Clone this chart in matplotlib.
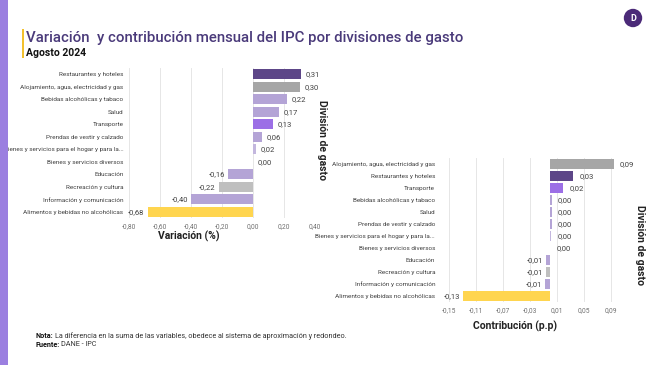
import matplotlib
matplotlib.use("Agg")
import matplotlib.pyplot as plt
from matplotlib.patches import Circle, Rectangle

plt.rcParams['font.family'] = ['Roboto', 'DejaVu Sans']

# ---------------- data ----------------
var_categories = ["Restaurantes y hoteles", "Alojamiento, agua, electricidad y gas",
                  "Bebidas alcohólicas y tabaco", "Salud", "Transporte",
                  "Prendas de vestir y calzado", "Bienes y servicios para el hogar y para la...",
                  "Bienes y servicios diversos", "Educación", "Recreación y cultura",
                  "Información y comunicación", "Alimentos y bebidas no alcohólicas"]
var_values = [0.31, 0.30, 0.22, 0.17, 0.13, 0.06, 0.02, 0.00, -0.16, -0.22, -0.40, -0.68]
var_colors = ["#5d4688", "#a6a6a6", "#b4a4d6", "#b4a4d6", "#9c6fe6", "#b4a4d6", "#c3b7de",
              "#c3b7de", "#b4a4d6", "#bfbfbf", "#b4a4d6", "#ffd54f"]
var_ticks = [-0.80, -0.60, -0.40, -0.20, 0.00, 0.20, 0.40]

con_categories = ["Alojamiento, agua, electricidad y gas", "Restaurantes y hoteles", "Transporte",
                  "Bebidas alcohólicas y tabaco", "Salud", "Prendas de vestir y calzado",
                  "Bienes y servicios para el hogar y para la...", "Bienes y servicios diversos",
                  "Educación", "Recreación y cultura", "Información y comunicación",
                  "Alimentos y bebidas no alcohólicas"]
con_values = [0.094, 0.034, 0.019, 0.002, 0.002, 0.002, 0.001, 0.000, -0.006, -0.006, -0.008, -0.129]
con_colors = ["#a6a6a6", "#5d4688", "#9c6fe6", "#b4a4d6", "#b4a4d6", "#b4a4d6", "#c3b7de",
              "#c3b7de", "#b4a4d6", "#bfbfbf", "#b4a4d6", "#ffd54f"]
con_ticks = [-0.15, -0.11, -0.07, -0.03, 0.01, 0.05, 0.09]

W, H = 650, 365
fig = plt.figure(figsize=(6.5, 3.65), dpi=100)
fig.patch.set_facecolor("white")

def fx(px):
    return px / W

def fy(py):
    return 1 - py / H

def fmt(v):
    s = f"{v:.2f}".replace(".", ",")
    if s == "-0,00":
        s = "0,00"
    return s

TICK_FS = 4.6
LAB_COLOR = "#404040"

def draw_bar_panel(ax, cats, vals, cols, ticks, xlim, pad, ypad, negpad):
    y = list(range(len(cats)))
    ax.barh(y, vals, color=cols, height=0.8, zorder=3)
    ax.set_ylim(len(cats) - 0.5, -0.5)
    ax.set_xlim(*xlim)
    ax.set_yticks(y)
    ax.set_yticklabels(cats, fontsize=TICK_FS, color=LAB_COLOR)
    ax.set_xticks(ticks)
    ax.set_xticklabels([fmt(t) for t in ticks], fontsize=TICK_FS + 0.2, color="#707070")
    ax.tick_params(length=0)
    ax.tick_params(axis="y", pad=ypad)
    ax.tick_params(axis="x", pad=4)
    for s in ax.spines.values():
        s.set_visible(False)
    ax.grid(axis="x", color="#e6e6e6", linewidth=0.7, zorder=0)
    ax.set_axisbelow(True)
    for yi, v in zip(y, vals):
        if v >= 0:
            ax.text(v + pad, yi, fmt(v), va="center", ha="left", fontsize=5.5, color=LAB_COLOR)
        else:
            ax.text(v - negpad, yi, fmt(v), va="center", ha="right", fontsize=5.5, color=LAB_COLOR)

# left panel
ax1 = fig.add_axes([fx(129), fy(218), fx(315 - 129), (218 - 68) / H])
draw_bar_panel(ax1, var_categories, var_values, var_colors, var_ticks, (-0.80, 0.40), 0.03, 4, 0.02)

# right panel
ax2 = fig.add_axes([fx(449), fy(302), fx(618 - 449), (302 - 158) / H])
draw_bar_panel(ax2, con_categories, con_values, con_colors, con_ticks, (-0.15, 0.10), 0.009, 10, 0.004)

# axis titles
fig.text(fx(189), fy(236), "Variación (%)", ha="center", va="center", fontsize=7.5,
         fontweight="bold", color="#222222")
fig.text(fx(515), fy(326), "Contribución (p.p)", ha="center", va="center", fontsize=7.5,
         fontweight="bold", color="#222222")
fig.text(fx(322), fy(140), "División de gasto", ha="center", va="center", fontsize=7.5,
         fontweight="bold", rotation=270, color="#222222")
fig.text(fx(640), fy(245), "División de gasto", ha="center", va="center", fontsize=7.5,
         fontweight="bold", rotation=270, color="#222222")

# decorations
fig.patches.append(Rectangle((0, 0), fx(8), 1, transform=fig.transFigure,
                             facecolor="#9b7fe0", edgecolor="none"))
fig.patches.append(Rectangle((fx(22), fy(58)), fx(1.5), (58 - 29) / H, transform=fig.transFigure,
                             facecolor="#f2c12e", edgecolor="none"))
fig.text(fx(26), fy(38), "Variación  y contribución mensual del IPC por divisiones de gasto",
         ha="left", va="center", fontsize=10.8, fontweight="medium", color="#4a3a7a")
fig.text(fx(26), fy(53), "Agosto 2024", ha="left", va="center", fontsize=7.5,
         fontweight="bold", color="#111111")

# logo
logo_ax = fig.add_axes([fx(623), fy(28), fx(20), 20 / H])
logo_ax.set_xlim(0, 1); logo_ax.set_ylim(0, 1); logo_ax.axis("off")
logo_ax.add_patch(Circle((0.5, 0.5), 0.46, facecolor="#4b2a78", edgecolor="none"))
logo_ax.text(0.5, 0.48, "D", ha="center", va="center", fontsize=6.5, fontweight="bold", color="white")

# footnotes
fig.canvas.draw()
r = fig.canvas.get_renderer()
FN = 5.2
t1 = fig.text(fx(35), fy(336), "Nota:", ha="left", va="center", fontsize=FN,
              fontweight="bold", color="#111111")
t2 = fig.text(fx(35), fy(345), "Fuente:", ha="left", va="center", fontsize=FN,
              fontweight="bold", color="#111111")
b1 = t1.get_window_extent(r)
b2 = t2.get_window_extent(r)
fig.text(fx(b1.x1 + 2), fy(336),
         "La diferencia en la suma de las variables, obedece al sistema de aproximación y redondeo.",
         ha="left", va="center", fontsize=FN, color="#333333")
fig.text(fx(b2.x1 + 2), fy(345), "DANE - IPC", ha="left", va="center", fontsize=FN, color="#333333")

fig.savefig("out.png", dpi=100)
